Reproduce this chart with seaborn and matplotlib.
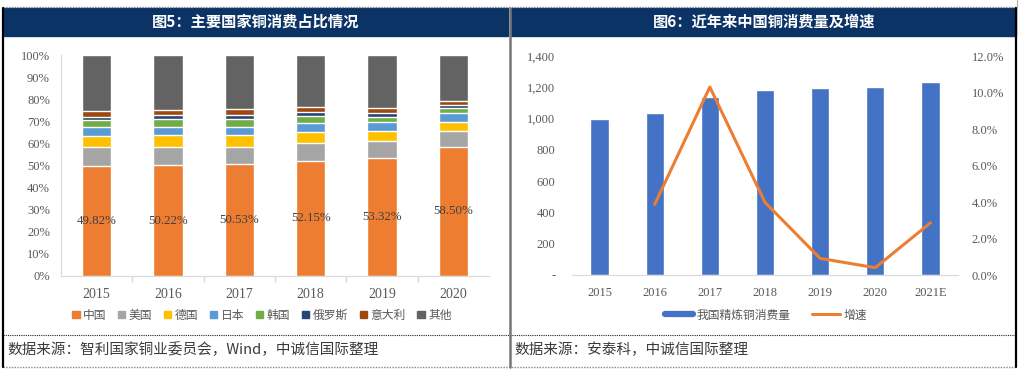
import numpy as np
import pandas as pd
import seaborn as sns
import matplotlib.pyplot as plt
from matplotlib.patches import Rectangle, Patch
from matplotlib.lines import Line2D

# ---- data: figure 5, share of copper consumption (%) ----
years5 = ['2015', '2016', '2017', '2018', '2019', '2020']
countries = ['中国', '美国', '德国', '日本', '韩国', '俄罗斯', '意大利', '其他']
china = [49.82, 50.22, 50.53, 52.15, 53.32, 58.50]
usa = [8.4, 8.0, 8.0, 7.9, 7.9, 7.2]
germany = [5.1, 5.4, 5.1, 5.0, 4.4, 4.2]
japan = [4.2, 3.9, 3.9, 4.2, 4.0, 3.7]
korea = [3.0, 3.3, 3.3, 3.0, 2.5, 2.5]
russia = [1.6, 2.0, 2.0, 1.8, 1.5, 1.4]
italy = [2.7, 2.4, 2.7, 2.3, 2.5, 1.8]
colors5 = ['#ED7D31', '#A5A5A5', '#FFC000', '#5B9BD5', '#70AD47', '#264478', '#9E480E', '#636363']

# ---- data: figure 6, China refined copper consumption ----
years6 = ['2015', '2016', '2017', '2018', '2019', '2020', '2021E']
consumption = [996, 1034, 1138, 1183, 1198, 1202, 1234]
growth = [3.87, 10.3, 3.98, 0.91, 0.40, 2.86]  # from 2016 on, %

W, H = 1024, 371
TICK = '#595959'
SERIF = 'Liberation Serif'
CJK = ['Noto Sans CJK SC', 'DejaVu Sans']

sns.set_theme(style='white')
plt.rcParams['font.family'] = CJK

fig = plt.figure(figsize=(W / 100, H / 100), dpi=100)


def px_axes(x0, y0, x1, y1):
    # pixel box (top-left origin) -> figure axes
    return fig.add_axes([x0 / W, 1 - y1 / H, (x1 - x0) / W, (y1 - y0) / H])


# ---- frame, title bars, source lines ----
bg = fig.add_axes([0, 0, 1, 1], zorder=0)
bg.set_xlim(0, W)
bg.set_ylim(H, 0)
bg.axis('off')
navy = '#0B3366'
bg.add_patch(Rectangle((4, 8), 504, 28, color=navy))
bg.add_patch(Rectangle((511, 8), 505, 28, color=navy))
bg.plot([3, 1016], [7, 7], color='#888888', lw=1, ls=(0, (1, 1)))
bg.plot([3, 1016], [335, 335], color='#222222', lw=0.8, ls=(0, (1, 1)))
bg.plot([3, 1016], [367, 367], color='#888888', lw=1, ls=(0, (1, 1)))
bg.plot([3, 3], [8, 367], color='black', lw=1.6)
bg.plot([509.5, 509.5], [8, 367], color='#777777', lw=1.8)
bg.plot([1016, 1016], [8, 367], color='black', lw=1.6)
bg.plot([1016.5, 1016.5], [0, 8], color='#aaaaaa', lw=0.8)

bg.text(256, 22, '图5：主要国家铜消费占比情况', color='white', fontsize=11,
        fontweight='bold', ha='center', va='center')
bg.text(764, 22, '图6：近年来中国铜消费量及增速', color='white', fontsize=11,
        fontweight='bold', ha='center', va='center')
bg.text(7, 350, '数据来源：智利国家铜业委员会，Wind，中诚信国际整理', color='#3a3a3a',
        fontsize=10.5, style='italic', ha='left', va='center')
bg.text(514, 350, '数据来源：安泰科，中诚信国际整理', color='#3a3a3a',
        fontsize=10.5, style='italic', ha='left', va='center')

# ---- figure 5: stacked 100% bars ----
ax = px_axes(61, 55, 489, 276)
ax.set_facecolor('none')
parts = np.array([china, usa, germany, japan, korea, russia, italy])
parts = np.vstack([parts, 100 - parts.sum(axis=0)])
tops = np.cumsum(parts, axis=0)
for k in range(len(countries) - 1, -1, -1):
    sns.barplot(x=years5, y=tops[k], color=colors5[k], saturation=1,
                width=0.41, errorbar=None, ax=ax)
for i, v in enumerate(china):
    ax.text(i, v / 2, f'{v:.2f}%', ha='center', va='center', fontsize=9.3,
            color='#404040', family=SERIF)
ax.set_xlim(-0.5, len(years5) - 0.5)
ax.set_ylim(0, 100)
ax.set_yticks(np.arange(0, 101, 10))
ax.set_yticklabels([f'{t}%' for t in range(0, 101, 10)])
ax.set_xticks(np.arange(len(years5) - 1) + 0.5, minor=True)
ax.tick_params(axis='y', length=0, pad=8, labelsize=9, labelcolor=TICK)
ax.tick_params(axis='x', which='major', length=0, pad=9, labelsize=10, labelcolor=TICK)
ax.tick_params(axis='x', which='minor', length=4, color='#D9D9D9', direction='out', bottom=True)
for lab in ax.get_xticklabels() + ax.get_yticklabels():
    lab.set_family(SERIF)
for s in ['top', 'right']:
    ax.spines[s].set_visible(False)
for s in ['left', 'bottom']:
    ax.spines[s].set_color('#D9D9D9')
    ax.spines[s].set_linewidth(0.8)
ax.set_xlabel('')
ax.set_ylabel('')

handles5 = [Patch(color=c) for c in colors5]
fig.legend(handles5, countries, loc='center', bbox_to_anchor=(262 / W, 1 - 315 / H),
           ncol=8, frameon=False, fontsize=8.5, labelcolor=TICK,
           handlelength=0.6, handleheight=0.6, handletextpad=0.3, columnspacing=1.0)

# ---- figure 6: bars + growth line ----
ax6 = px_axes(572, 56, 958, 275)
ax6.set_facecolor('none')
sns.barplot(x=years6, y=consumption, color='#4472C4', saturation=1,
            width=0.33, errorbar=None, ax=ax6)
ax6.set_xlim(-0.5, len(years6) - 0.5)
ax6.set_ylim(0, 1400)
yt = np.arange(0, 1401, 200)
ax6.set_yticks(yt)
ax6.set_yticklabels(['-'] + [f'{t:,}' for t in yt[1:]])
ax6.tick_params(axis='y', length=0, pad=12, labelsize=9, labelcolor=TICK)
ax6.tick_params(axis='x', length=0, pad=9, labelsize=9, labelcolor=TICK)
for lab in ax6.get_xticklabels() + ax6.get_yticklabels():
    lab.set_family(SERIF)
for s in ['top', 'right', 'left']:
    ax6.spines[s].set_visible(False)
ax6.spines['bottom'].set_color('#D9D9D9')
ax6.spines['bottom'].set_linewidth(0.8)
ax6.set_xlabel('')
ax6.set_ylabel('')

ax7 = ax6.twinx()
sns.lineplot(x=np.arange(1, len(years6)), y=growth, color='#ED7D31', lw=2.2, ax=ax7)
ax7.set_xlim(-0.5, len(years6) - 0.5)
ax7.set_ylim(0, 12)
ax7.set_yticks(np.arange(0, 12.1, 2))
ax7.set_yticklabels([f'{t:.1f}%' for t in np.arange(0, 12.1, 2)])
ax7.tick_params(axis='y', length=0, pad=10, labelsize=9, labelcolor=TICK)
for lab in ax7.get_yticklabels():
    lab.set_family(SERIF)
for s in ax7.spines.values():
    s.set_visible(False)
ax7.set_ylabel('')

handles6 = [Line2D([], [], color='#4472C4', lw=4.5), Line2D([], [], color='#ED7D31', lw=2.2)]
fig.legend(handles6, ['我国精炼铜消费量', '增速'], loc='center',
           bbox_to_anchor=(766 / W, 1 - 315 / H), ncol=2, frameon=False,
           fontsize=8.5, labelcolor=TICK, handlelength=2.4, handletextpad=0.3,
           columnspacing=1.8)

fig.savefig('out.png', dpi=100)
